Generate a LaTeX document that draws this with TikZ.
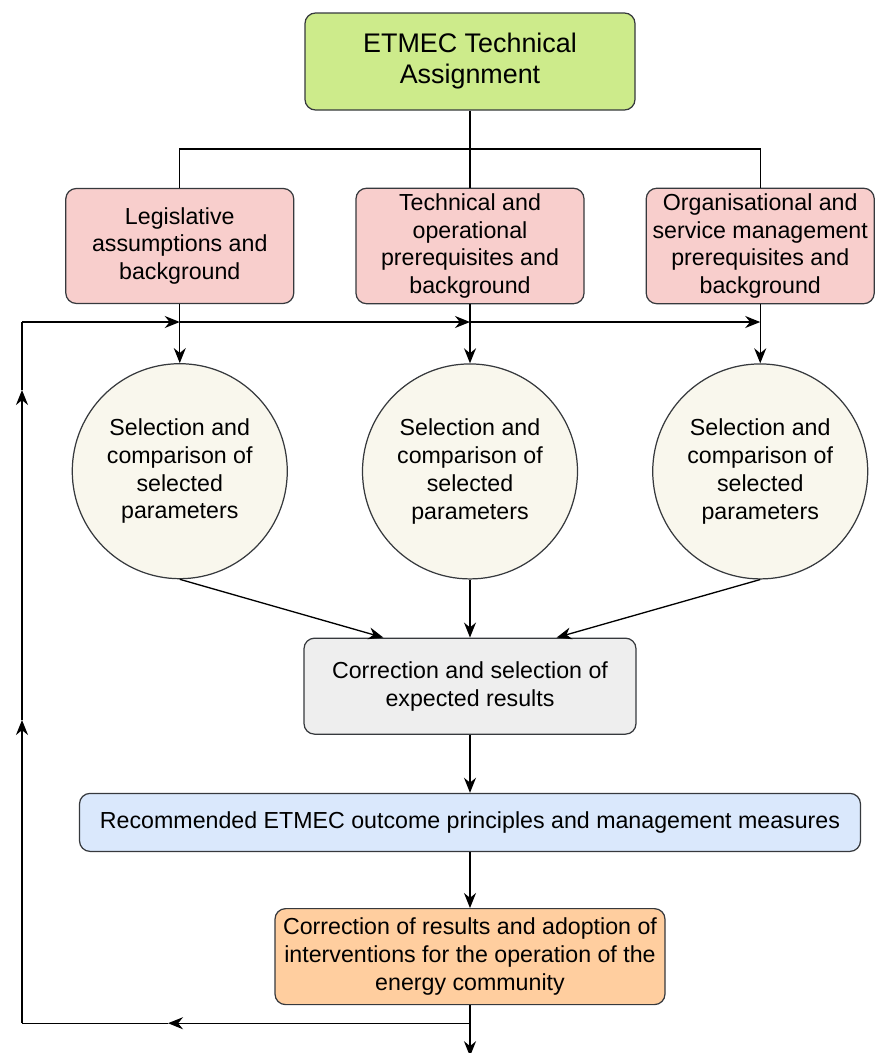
\documentclass[tikz,border=0pt]{standalone}
\usepackage{fontspec}
\setmainfont{Liberation Sans}
\usetikzlibrary{arrows.meta,positioning,calc}
\definecolor{LineGray}{HTML}{36393D}
\definecolor{LimeFill}{HTML}{CDEB8B}
\definecolor{RoseFill}{HTML}{F8CECC}
\definecolor{CreamFill}{HTML}{F9F7ED}
\definecolor{StoneFill}{HTML}{EEEEEE}
\definecolor{SkyFill}{HTML}{DAE8FC}
\definecolor{PeachFill}{HTML}{FFCE9F}
\tikzset{
  box/.style={rounded corners=6pt, draw=LineGray, line width=0.7pt, align=center, inner sep=3pt, font=\fontsize{13.2}{15.8}\selectfont},
  greenbox/.style={box, fill=LimeFill, minimum width=6.6cm, minimum height=1.94cm, font=\fontsize{15.3}{17.6}\selectfont},
  redbox/.style={box, fill=RoseFill, minimum width=4.56cm, minimum height=2.3cm},
  roundbox/.style={circle, draw=LineGray, line width=0.7pt, fill=CreamFill, minimum size=4.3cm, inner sep=0pt, align=center, font=\fontsize{13.2}{15.8}\selectfont},
  graybox/.style={box, fill=StoneFill, minimum width=6.64cm, minimum height=1.92cm},
  bluebox/.style={box, fill=SkyFill, minimum width=15.62cm, minimum height=1.16cm},
  orangebox/.style={box, fill=PeachFill, minimum width=7.8cm, minimum height=1.92cm},
  arrow/.style={-{Stealth[length=3mm, width=2.4mm]}, line width=0.75pt, draw=black},
  line/.style={line width=0.75pt, draw=black}
}
\begin{document}
\begin{tikzpicture}
\useasboundingbox (0,0) rectangle (17.5,-21.06);
\node[greenbox] (task) at (9.4,-1.23) {ETMEC Technical\\Assignment};
\node[redbox, below=1.54cm of task] (tech) {Technical and\\operational\\prerequisites and\\background};
\node[redbox, left=1.22cm of tech] (leg) {Legislative\\assumptions and\\background};
\node[redbox, right=1.22cm of tech] (org) {Organisational and\\service management\\prerequisites and\\background};
\node[roundbox, below=1.18cm of leg] (sel1) {Selection and\\comparison of\\selected\\parameters};
\node[roundbox, below=1.18cm of tech] (sel2) {Selection and\\comparison of\\selected\\parameters};
\node[roundbox, below=1.18cm of org] (sel3) {Selection and\\comparison of\\selected\\parameters};
\node[graybox, below=1.16cm of sel2] (check) {Correction and selection of\\expected results};
\node[bluebox, below=1.16cm of check] (advice) {Recommended ETMEC outcome principles and management measures};
\node[orangebox, below=1.12cm of advice] (adopt) {Correction of results and adoption of\\interventions for the operation of the\\energy community};
% feedback points
\coordinate (hub) at ($(task.south)!0.5!(tech.north)$);
\coordinate (split) at ($(adopt.south)+(0,-0.36)$);
\coordinate (out) at ($(adopt.south)+(0,-1.02)$);
\coordinate (back) at (split -| 3.36,0);
\coordinate (corner1) at (split -| 0.44,0);
\coordinate (up1) at (0.44,-14.4);
\coordinate (up2) at (0.44,-7.8);
\coordinate (corner2) at (0.44,-6.44);
\coordinate (j1) at (leg.south |- corner2);
\coordinate (j2) at (tech.south |- corner2);
\coordinate (j3) at (org.south |- corner2);
% tree
\draw[line] (task.south) -- (tech.north);
\draw[line] (leg.north) |- (hub) -| (org.north);
\draw[arrow] (leg) -- (sel1);
\draw[arrow] (tech) -- (sel2);
\draw[arrow] (org) -- (sel3);
\draw[arrow] (sel1.south) -- ($(check.north west)!0.24!(check.north east)$);
\draw[arrow] (sel2) -- (check);
\draw[arrow] (sel3.south) -- ($(check.north west)!0.76!(check.north east)$);
\draw[arrow] (check) -- (advice);
\draw[arrow] (advice) -- (adopt);
\draw[arrow] (adopt) -- (out);
% loop back
\draw[arrow] (split) -- (back);
\draw[line] (back) -- (corner1);
\draw[arrow] (corner1) -- (up1);
\draw[arrow] (up1) -- (up2);
\draw[line] (up2) -- (corner2);
\draw[arrow] (corner2) -- (j1);
\draw[arrow] (j1) -- (j2);
\draw[arrow] (j2) -- (j3);
\end{tikzpicture}
\end{document}
